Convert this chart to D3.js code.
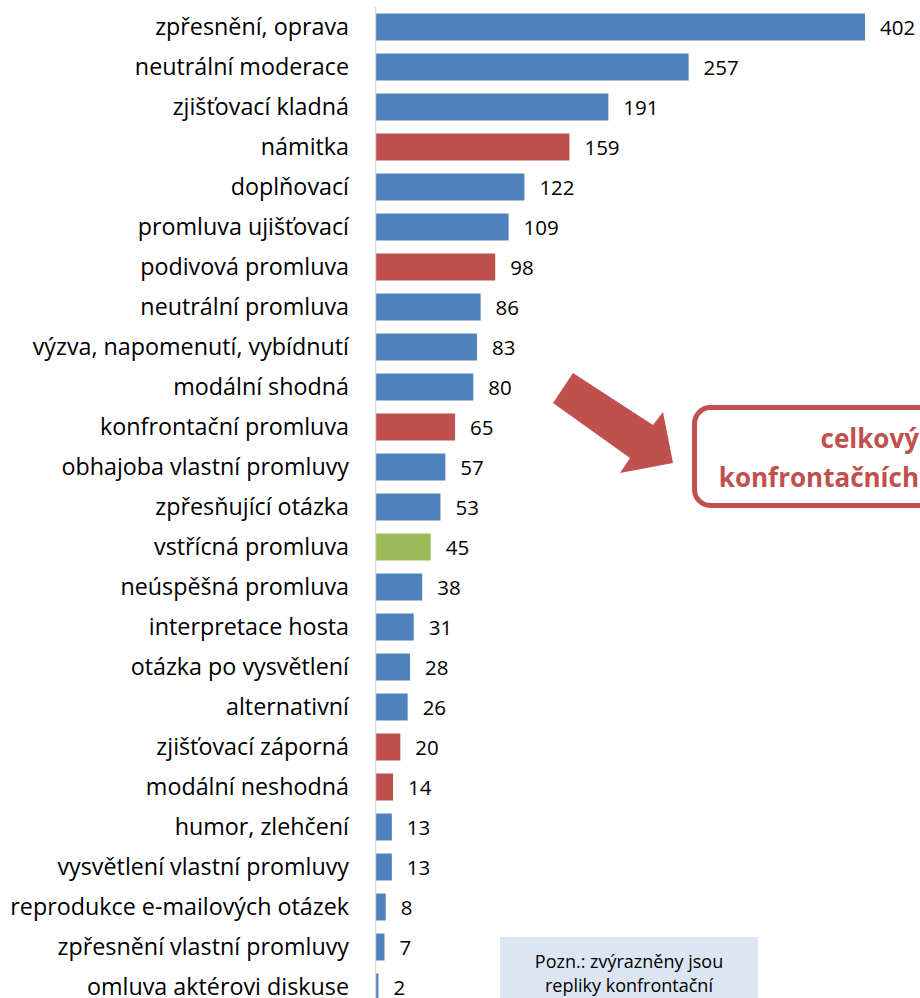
<!DOCTYPE html>
<html>
<head>
<meta charset="utf-8">
<script src="https://cdn.jsdelivr.net/npm/d3@7"></script>
<style>
  body { margin: 0; background: #fff; }
  text { font-family: "Open Sans", "Noto Sans", sans-serif; }
</style>
</head>
<body>
<div id="chart"></div>
<script>
// data
var categories = [
  'zpřesnění, oprava', 'neutrální moderace', 'zjišťovací kladná', 'námitka',
  'doplňovací', 'promluva ujišťovací', 'podivová promluva', 'neutrální promluva',
  'výzva, napomenutí, vybídnutí', 'modální shodná', 'konfrontační promluva',
  'obhajoba vlastní promluvy', 'zpřesňující otázka', 'vstřícná promluva',
  'neúspěšná promluva', 'interpretace hosta', 'otázka po vysvětlení',
  'alternativní', 'zjišťovací záporná', 'modální neshodná', 'humor, zlehčení',
  'vysvětlení vlastní promluvy', 'reprodukce e-mailových otázek',
  'zpřesnění vlastní promluvy', 'omluva aktérovi diskuse'
];
var values = [402, 257, 191, 159, 122, 109, 98, 86, 83, 80, 65, 57, 53, 45, 38, 31, 28, 26, 20, 14, 13, 13, 8, 7, 2];
// b = běžná, k = konfrontační, v = vstřícná
var kinds = ['b', 'b', 'b', 'k', 'b', 'b', 'k', 'b', 'b', 'b', 'k', 'b', 'b', 'v', 'b', 'b', 'b', 'b', 'k', 'k', 'b', 'b', 'b', 'b', 'b'];
var calloutLines = ['celkový', 'konfrontačních'];
var noteLines = ['Pozn.: zvýrazněny jsou', 'repliky konfrontační'];

var colors = { b: '#4F81BD', k: '#C0504D', v: '#9BBB59' };

var W = 920, H = 998;

var svg = d3.select('#chart').append('svg')
  .attr('width', W)
  .attr('height', H);

var y = d3.scaleBand()
  .domain(categories)
  .range([7, 1007])
  .paddingInner(0.325)
  .paddingOuter(0.1625);

var x = d3.scaleLinear().domain([0, 402]).range([376, 865]);

var rows = categories.map(function(c, i) {
  return { cat: c, val: values[i], kind: kinds[i] };
});

// bars
svg.selectAll('rect.bar').data(rows).enter().append('rect')
  .attr('class', 'bar')
  .attr('x', x(0))
  .attr('y', function(d) { return y(d.cat); })
  .attr('width', function(d) { return x(d.val) - x(0); })
  .attr('height', y.bandwidth())
  .attr('fill', function(d) { return colors[d.kind]; });

// category axis line
svg.append('line')
  .attr('x1', 375.5).attr('x2', 375.5)
  .attr('y1', 7).attr('y2', H)
  .attr('stroke', '#d9d9d9')
  .attr('stroke-width', 1.5);

// category labels
svg.selectAll('text.cat').data(rows).enter().append('text')
  .attr('class', 'cat')
  .attr('x', 349)
  .attr('y', function(d) { return y(d.cat) + y.bandwidth() / 2; })
  .attr('dy', '0.34em')
  .attr('text-anchor', 'end')
  .attr('font-size', 23.3)
  .attr('fill', '#000')
  .text(function(d) { return d.cat; });

// value labels
svg.selectAll('text.val').data(rows).enter().append('text')
  .attr('class', 'val')
  .attr('x', function(d) { return x(d.val) + 15; })
  .attr('y', function(d) { return y(d.cat) + y.bandwidth() / 2 + 1; })
  .attr('dy', '0.35em')
  .attr('font-size', 20.5)
  .attr('fill', '#000')
  .text(function(d) { return d.val; });

// arrow
var arrowPts = [[573, 373], [653, 425], [663, 412], [673, 463], [620, 473], [630, 458], [553, 403]];
svg.append('polygon')
  .attr('points', arrowPts.map(function(p) { return p.join(','); }).join(' '))
  .attr('fill', '#C0504D');

// callout box (runs off the right edge)
svg.append('rect')
  .attr('x', 694.5).attr('y', 407.5)
  .attr('width', 300).attr('height', 98)
  .attr('rx', 16)
  .attr('fill', '#fff')
  .attr('stroke', '#C0504D')
  .attr('stroke-width', 5);

svg.selectAll('text.callout').data(calloutLines).enter().append('text')
  .attr('class', 'callout')
  .attr('x', 919)
  .attr('y', function(d, i) { return 448 + i * 39; })
  .attr('text-anchor', 'end')
  .attr('font-size', 26).attr('font-weight', 'bold')
  .attr('fill', '#C0504D')
  .text(function(d) { return d; });

// note box
svg.append('rect')
  .attr('x', 500).attr('y', 937)
  .attr('width', 258).attr('height', 70)
  .attr('fill', '#DCE6F2');

svg.selectAll('text.note').data(noteLines).enter().append('text')
  .attr('class', 'note')
  .attr('x', 629)
  .attr('y', function(d, i) { return 968 + i * 24; })
  .attr('text-anchor', 'middle')
  .attr('font-size', 18)
  .attr('fill', '#000')
  .text(function(d) { return d; });
</script>
</body>
</html>
